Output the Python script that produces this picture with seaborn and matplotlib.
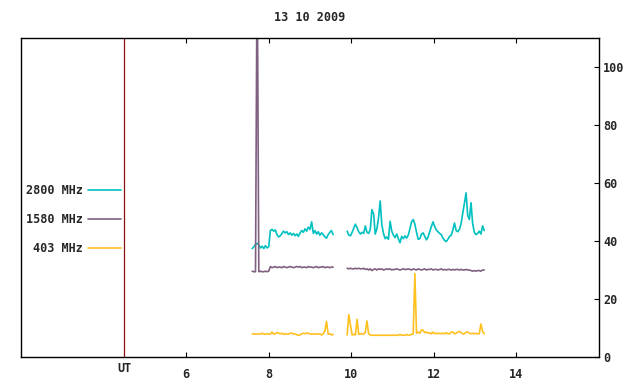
import numpy as np
import pandas as pd
import matplotlib
matplotlib.use('Agg')
import matplotlib.pyplot as plt
import seaborn as sns

# -----------------------------------------------------------------------------
# Donnees : flux radio solaire (13 10 2009), 3 frequences, 2 segments chacune
# -----------------------------------------------------------------------------
t_seg1 = np.round(np.arange(7.60, 9.5601, 0.04), 2)   # 50 points
t_seg2 = np.round(np.arange(9.90, 13.2201, 0.04), 2)  # 84 points

f2800_seg1 = [37.4, 38.0, 38.8, 39.2, 38.6, 37.6, 38.2, 37.4, 38.4, 37.6,
              38.0, 43.6, 44.0, 43.4, 43.8, 42.2, 41.4, 41.8, 42.6, 43.4,
              42.8, 43.2, 42.2, 42.8, 42.0, 42.6, 41.8, 42.4, 41.6, 42.8,
              43.6, 43.0, 44.2, 43.4, 44.8, 44.0, 46.6, 42.6, 43.6, 42.4,
              43.2, 42.0, 42.8, 42.2, 41.4, 41.0, 42.2, 43.0, 43.6, 42.2]
f2800_seg2 = [43.4, 42.0, 41.8, 43.0, 44.4, 45.8, 44.6, 43.2, 42.4, 43.0,
              42.6, 45.2, 43.0, 42.6, 44.0, 50.8, 49.4, 42.4, 44.2, 48.0,
              53.8, 45.6, 42.6, 40.8, 41.4, 40.6, 46.8, 43.4, 42.0, 41.2,
              42.4, 40.8, 39.4, 41.6, 40.8, 41.8, 41.0, 42.0, 44.2, 46.6,
              47.4, 45.8, 43.0, 40.6, 40.8, 42.4, 42.8, 41.6, 40.4, 41.4,
              43.2, 45.0, 46.6, 45.0, 43.8, 43.2, 42.6, 42.2, 41.0, 40.2,
              39.8, 40.6, 41.6, 42.0, 43.8, 46.2, 43.6, 43.2, 44.0, 46.0,
              49.6, 53.0, 56.6, 48.8, 47.4, 53.2, 46.0, 43.0, 42.2, 42.6,
              43.4, 42.4, 45.2, 43.6]

f1580_seg1 = [29.6, 29.4, 29.4, 140.0, 29.4, 29.6, 29.4, 29.4, 29.6, 29.4,
              29.6, 31.2, 30.8, 31.0, 31.2, 30.8, 31.0, 31.0, 30.8, 31.2,
              31.0, 30.8, 31.0, 31.2, 31.0, 30.8, 31.0, 31.2, 31.0, 31.2,
              30.8, 31.0, 31.0, 30.8, 31.2, 31.0, 31.0, 30.8, 31.0, 31.2,
              30.8, 31.0, 31.0, 31.2, 30.8, 31.0, 31.0, 30.8, 31.0, 31.0]
f1580_seg2 = [30.6, 30.4, 30.6, 30.4, 30.4, 30.6, 30.4, 30.6, 30.4, 30.4,
              30.6, 30.2, 30.4, 30.0, 30.4, 29.8, 30.2, 30.4, 30.0, 30.4,
              30.2, 30.4, 30.0, 30.2, 30.4, 30.2, 30.4, 30.0, 30.2, 30.2,
              30.4, 30.2, 30.0, 30.2, 30.4, 30.2, 30.2, 30.4, 30.2, 30.0,
              30.4, 30.2, 30.0, 30.4, 30.2, 30.0, 30.2, 30.4, 30.0, 30.2,
              30.2, 30.4, 30.0, 30.2, 30.2, 30.0, 30.2, 30.4, 30.0, 30.2,
              30.0, 30.2, 30.2, 30.0, 30.2, 30.0, 30.2, 30.2, 30.0, 30.2,
              30.0, 30.0, 30.2, 30.0, 30.0, 29.8, 29.6, 29.8, 29.6, 29.8,
              29.8, 29.6, 30.0, 30.0]

f403_seg1 = [8.0, 7.9, 7.9, 8.0, 7.9, 7.9, 8.2, 7.9, 7.9, 8.0,
             7.9, 7.9, 8.6, 7.9, 8.0, 8.4, 8.3, 8.0, 8.2, 7.8,
             8.0, 7.9, 7.9, 8.2, 8.2, 8.0, 7.9, 7.7, 7.5, 7.6,
             8.0, 8.2, 8.0, 8.3, 8.2, 7.9, 7.9, 7.9, 8.0, 7.9,
             7.9, 7.9, 7.6, 8.0, 9.0, 12.3, 7.9, 8.0, 7.6, 7.8]
f403_seg2 = [7.6, 14.6, 11.0, 7.6, 7.8, 7.6, 13.0, 7.8, 8.0, 8.0,
             7.9, 8.5, 12.4, 8.0, 7.6, 7.5, 7.5, 7.5, 7.5, 7.5,
             7.5, 7.5, 7.5, 7.5, 7.5, 7.5, 7.5, 7.5, 7.5, 7.5,
             7.5, 7.5, 7.8, 7.5, 7.5, 7.5, 7.8, 7.5, 7.6, 7.8,
             8.0, 28.8, 8.2, 8.6, 8.2, 9.4, 9.2, 8.4, 8.6, 8.2,
             8.4, 8.0, 8.6, 8.0, 8.2, 8.0, 8.2, 8.0, 8.2, 8.0,
             8.4, 8.0, 8.0, 8.6, 8.6, 8.0, 8.2, 8.6, 8.8, 8.4,
             8.0, 8.0, 8.6, 8.6, 8.2, 8.0, 8.2, 8.0, 8.2, 8.0,
             8.0, 11.4, 8.8, 8.0]

freq_labels = ['2800 MHz', '1580 MHz', '403 MHz']
freq_colors = {'2800 MHz': '#00c0c0', '1580 MHz': '#806080', '403 MHz': '#ffc020'}
x_ticks = [6, 8, 10, 12, 14]
y_ticks = [0, 20, 40, 60, 80, 100]
ut_mark = 4.5

# Table longue pour seaborn
frames = []
for lab, s1, s2 in [('2800 MHz', f2800_seg1, f2800_seg2),
                    ('1580 MHz', f1580_seg1, f1580_seg2),
                    ('403 MHz', f403_seg1, f403_seg2)]:
    frames.append(pd.DataFrame({'UT': t_seg1, 'flux': s1, 'freq': lab, 'seg': 1}))
    frames.append(pd.DataFrame({'UT': t_seg2, 'flux': s2, 'freq': lab, 'seg': 2}))
df = pd.concat(frames, ignore_index=True)

# -----------------------------------------------------------------------------
# Figure
# -----------------------------------------------------------------------------
sns.set_style('white')
plt.rcParams['font.family'] = ['DejaVu Sans Mono', 'DejaVu Sans']
plt.rcParams['font.weight'] = 'bold'

fig = plt.figure(figsize=(6.4, 3.84), dpi=100)
ax = fig.add_axes([21 / 640, 27 / 384, 578 / 640, 319 / 384])

sns.lineplot(data=df, x='UT', y='flux', hue='freq', hue_order=freq_labels,
             palette=freq_colors, units='seg', estimator=None,
             linewidth=1.2, ax=ax)

ax.axvline(ut_mark, color='#8b1010', linewidth=0.9, zorder=0)

ax.set_xlim(2, 16)
ax.set_ylim(0, 110)
ax.set_xticks(x_ticks)
ax.set_xticklabels([str(v) for v in x_ticks])
ax.set_yticks(y_ticks)
ax.set_yticklabels([str(v) for v in y_ticks])
ax.yaxis.tick_right()
ax.tick_params(axis='x', which='both', direction='in', top=True, bottom=True,
               length=3.5, width=0.8, color='black', pad=8, labelsize=8.5)
ax.tick_params(axis='y', which='both', direction='in', left=False, right=True,
               length=3.5, width=0.8, color='black', pad=3, labelsize=8.5)
for lbl in ax.get_xticklabels() + ax.get_yticklabels():
    lbl.set_fontweight('bold')
for sp in ax.spines.values():
    sp.set_color('black')
    sp.set_linewidth(1.0)
ax.set_xlabel('')
ax.set_ylabel('')

ax.text(ut_mark, -12 / 319, 'UT', transform=ax.get_xaxis_transform(),
        ha='center', va='center', fontsize=8.5, fontweight='bold')

ax.set_title('13 10 2009', fontsize=8.5, fontweight='bold', pad=12)

handles, labels = ax.get_legend_handles_labels()
ax.legend(handles, labels, loc='upper right', bbox_to_anchor=(0.173, 0.542),
          frameon=False, markerfirst=False, handlelength=2.8,
          handletextpad=0.45, labelspacing=1.35, borderpad=0, borderaxespad=0,
          prop={'family': 'DejaVu Sans Mono', 'weight': 'bold', 'size': 8.5})

fig.savefig('out.png', dpi=100)
